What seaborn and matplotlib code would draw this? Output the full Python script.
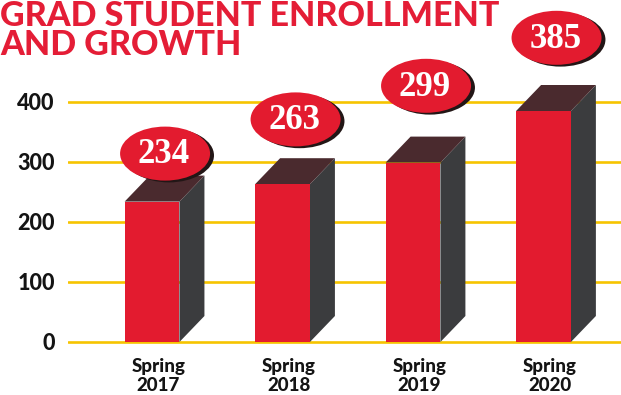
import matplotlib
matplotlib.use("Agg")
import matplotlib.pyplot as plt
from matplotlib.patches import Polygon, Ellipse
import seaborn as sns
import numpy as np

# Enrollment data
terms = ["Spring\n2017", "Spring\n2018", "Spring\n2019", "Spring\n2020"]
enrollment = [234, 263, 299, 385]
y_ticks = [0, 100, 200, 300, 400]
title = "GRAD STUDENT ENROLLMENT\nAND GROWTH"

# Styling
RED = "#E31B2F"
SIDE = "#3B3C3E"
TOP = "#4A2A2E"
GOLD = "#F6C400"
INK = "#141414"
label_lift = [80, 108, 128, 122]   # how far each value badge floats above its bar

sns.set_theme(style="white")
plt.rcParams["font.family"] = ["Lato", "DejaVu Sans"]

W, H = 621, 395
fig = plt.figure(figsize=(W / 100, H / 100), dpi=100)
fig.patch.set_facecolor("white")
ax = fig.add_axes([68 / W, 45 / H, (W - 68) / W, (H - 45) / H])
ax.set_facecolor("white")

sns.barplot(x=terms, y=enrollment, color=RED, saturation=1, width=0.42,
            ax=ax, zorder=3, linewidth=0)

ax.set_xlim(-0.644, 3.594)
px_per_unit = 0.6
ax.set_ylim(-(350 - 342) / px_per_unit, 342 / px_per_unit)

# depth of the extruded bars in data units
dx = 25 / 130.5
dy = 26 / px_per_unit

for i, bar in enumerate(ax.patches[:len(enrollment)]):
    x0 = bar.get_x()
    x1 = x0 + bar.get_width()
    h = bar.get_height()
    side = Polygon([(x1, 0), (x1 + dx, dy), (x1 + dx, h + dy), (x1, h)],
                   closed=True, facecolor=SIDE, edgecolor="none", zorder=2.9)
    top = Polygon([(x0, h), (x0 + dx, h + dy), (x1 + dx, h + dy), (x1, h)],
                  closed=True, facecolor=TOP, edgecolor="none", zorder=2.9)
    ax.add_patch(side)
    ax.add_patch(top)

    cx = x0 + bar.get_width() / 2 + 0.1
    cy = h + label_lift[i]
    ew, eh = 90 / 130.5, 54 / px_per_unit
    shadow = Ellipse((cx + 0.03, cy - 3), ew, eh, facecolor="#221616",
                     edgecolor="none", zorder=4, clip_on=False)
    badge = Ellipse((cx, cy), ew, eh, facecolor=RED, edgecolor="none",
                    zorder=5, clip_on=False)
    ax.add_patch(shadow)
    ax.add_patch(badge)
    ax.text(cx - 0.01, cy - 2, f"{enrollment[i]}", ha="center", va="center",
            color="white", fontsize=25, fontweight="bold",
            family=["Liberation Serif", "DejaVu Serif"], zorder=6)

# gridlines and axes
ax.set_yticks(y_ticks)
ax.set_yticklabels([str(t) for t in y_ticks])
ax.yaxis.grid(True, color=GOLD, linewidth=1.9, zorder=0)
ax.set_axisbelow(True)
for s in ax.spines.values():
    s.set_visible(False)
ax.tick_params(axis="y", length=0, pad=9.5, labelsize=15.5, labelcolor=INK)
ax.tick_params(axis="x", length=0, pad=6, labelsize=13.5, labelcolor=INK)
for lab in ax.get_yticklabels():
    lab.set_fontweight("black")
ax.set_xticks(np.arange(len(terms)) + 0.05)
ax.set_xticklabels(terms, fontweight="black", linespacing=1.15)
ax.set_xlabel("")
ax.set_ylabel("")

fig.text(0, 1 - 0.5 / H, title, ha="left", va="top", color="#E41D36",
         fontsize=24.5, fontweight="black", linespacing=0.88)

fig.savefig("out.png", dpi=100, facecolor="white")
